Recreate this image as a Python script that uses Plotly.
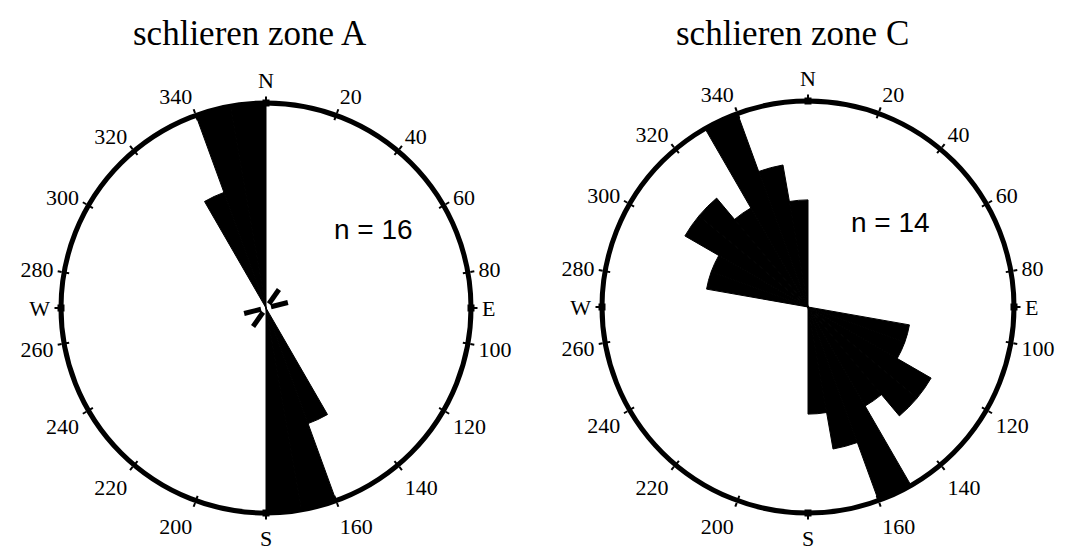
import plotly.graph_objects as go

# ---- data ----
zoneA_theta = [335, 345, 355, 155, 165, 175]
zoneA_r = [0.6, 1.0, 1.0, 0.6, 1.0, 1.0]
zoneA_minor_theta = [35, 76, 215, 256]
zoneA_minor_r = [0.11, 0.11, 0.11, 0.11]

zoneC_theta = [285, 295, 305, 315, 325, 335, 345, 355,
               105, 115, 125, 135, 145, 155, 165, 175]
zoneC_r = [0.5, 0.5, 0.69, 0.69, 0.555, 1.0, 0.70, 0.52,
           0.5, 0.5, 0.69, 0.69, 0.555, 1.0, 0.70, 0.52]

tick_vals = [0, 20, 40, 60, 80, 90, 100, 120, 140, 160, 180,
             200, 220, 240, 260, 270, 280, 300, 320, 340]
tick_text = ["N", "20", "40", "60", "80", "E", "100", "120", "140", "160", "S",
             "200", "220", "240", "260", "W", "280", "300", "320", "340"]
cardinal = [0, 90, 180, 270]

titles = ["schlieren zone A", "schlieren zone C"]
counts = ["n = 16", "n = 14"]

serif = "Liberation Serif, Times New Roman, serif"
sans = "Liberation Sans, Arial, sans-serif"

# page body margin offset (px) in the rendered page
OFF = 8
W, H = 1068, 550

fig = go.Figure()

fig.add_trace(go.Barpolar(theta=zoneA_theta, r=zoneA_r, width=[10]*len(zoneA_theta),
                          marker=dict(color="black", line=dict(color="black", width=1)),
                          subplot="polar", showlegend=False))
for th, rr in zip(zoneA_minor_theta, zoneA_minor_r):
    fig.add_trace(go.Scatterpolar(theta=[th, th], r=[0.025, rr], mode="lines",
                                  line=dict(color="black", width=5),
                                  subplot="polar", showlegend=False))
fig.add_trace(go.Barpolar(theta=zoneC_theta, r=zoneC_r, width=[10]*len(zoneC_theta),
                          marker=dict(color="black", line=dict(color="black", width=1)),
                          subplot="polar2", showlegend=False))
for sp in ["polar", "polar2"]:
    # inner half of the ring tick marks
    for tv in tick_vals:
        if tv in cardinal:
            continue
        fig.add_trace(go.Scatterpolar(theta=[tv, tv], r=[0.975, 1.0], mode="lines",
                                      line=dict(color="black", width=2),
                                      subplot=sp, showlegend=False, hoverinfo="skip"))
    fig.add_trace(go.Scatterpolar(theta=cardinal, r=[1]*4, mode="markers",
                                  marker=dict(symbol="square", size=7, color="black"),
                                  subplot=sp, showlegend=False, cliponaxis=False))

def dom(cx, cy, R):
    cx -= OFF
    cy -= OFF
    yb = H - cy
    return [(cx - R) / W, (cx + R) / W], [(yb - R) / H, (yb + R) / H]

def polar_layout(cx, cy, R):
    xd, yd = dom(cx, cy, R)
    return dict(
        domain=dict(x=xd, y=yd),
        bgcolor="white",
        bargap=0,
        radialaxis=dict(visible=False, range=[0, 1]),
        angularaxis=dict(rotation=90, direction="clockwise",
                         tickmode="array", tickvals=tick_vals, ticktext=tick_text,
                         tickfont=dict(family=serif, size=22, color="black"),
                         ticks="outside", ticklen=4, tickwidth=2, tickcolor="black",
                         showline=True, linewidth=5, linecolor="black",
                         showgrid=False),
    )

fig.update_layout(
    width=W, height=H,
    margin=dict(l=0, r=0, t=0, b=0),
    paper_bgcolor="white", plot_bgcolor="white",
    polar=polar_layout(266, 308, 205),
    polar2=polar_layout(808, 307, 206),
)

def px(x, y):
    return (x - OFF) / W, 1 - (y - OFF) / H

annots = []
for (sx, sy), t in zip([(250, 34), (792, 34)], titles):
    x, y = px(sx, sy)
    annots.append(dict(x=x, y=y, xref="paper", yref="paper", text=t,
                       showarrow=False, xanchor="center", yanchor="middle",
                       font=dict(family=serif, size=35, color="black")))
for (sx, sy), t in zip([(373, 230), (890, 223)], counts):
    x, y = px(sx, sy)
    annots.append(dict(x=x, y=y, xref="paper", yref="paper", text=t,
                       showarrow=False, xanchor="center", yanchor="middle",
                       font=dict(family=sans, size=28, color="black")))
fig.update_layout(annotations=annots)

fig.write_html("out.html")
